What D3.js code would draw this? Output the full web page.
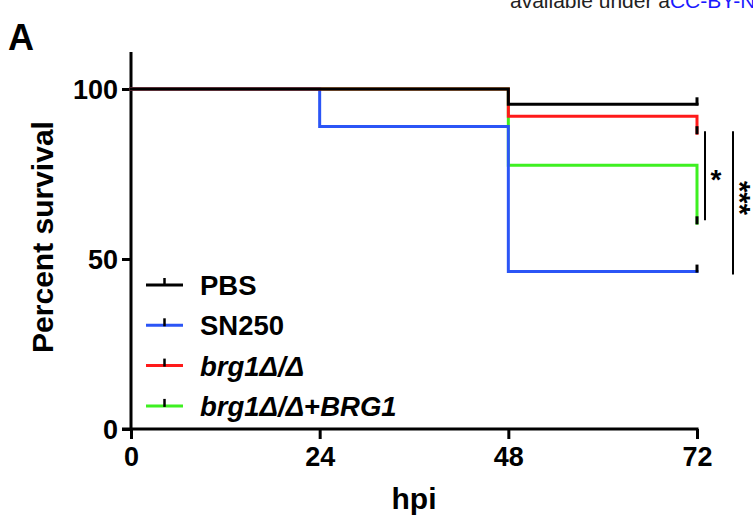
<!DOCTYPE html>
<html>
<head>
<meta charset="utf-8">
<script src="https://cdn.jsdelivr.net/npm/d3@7"></script>
<style>
  body { margin: 0; background: #fff; }
  svg { font-family: "Liberation Sans", Arial, sans-serif; }
</style>
</head>
<body>
<svg id="chart" width="753" height="522"></svg>
<script>
// time points (hours post infection)
const hpi = [0, 24, 48, 72];
// percent survival after each time point (step after)
const pbs = [100, 100, 95.5, 95.5];
const sn250 = [100, 89, 46.3, 46.3];
const brg1 = [100, 100, 92, 87];
const brg1Rescue = [100, 100, 77.6, 60.5];

const seriesNames = ["PBS", "SN250", "brg1\u0394/\u0394", "brg1\u0394/\u0394+BRG1"];
const seriesColors = ["#000000", "#2b55f6", "#ff1a1a", "#3ef021"];
const xTicks = [0, 24, 48, 72];
const yTicks = [0, 50, 100];

let svg = d3.select("#chart");

let x = d3.scaleLinear().domain([0, 72]).range([131, 697]);
let y = d3.scaleLinear().domain([0, 100]).range([429, 89]);

// header bits
svg.append("text")
    .attr("x", 510).attr("y", 8)
    .attr("font-size", 21)
    .attr("fill", "#222")
    .html('available under a<tspan fill="#1a1aff">CC-BY-NC-ND 4.0 International license</tspan>');

svg.append("text")
    .attr("x", 8).attr("y", 50)
    .attr("font-size", 36).attr("font-weight", "bold")
    .text("A");

// axes
let yAxis = d3.axisLeft(y).tickValues(yTicks).tickSize(9).tickPadding(4);
let xAxis = d3.axisBottom(x).tickValues(xTicks).tickSize(10).tickPadding(8);

let gy = svg.append("g").attr("transform", "translate(131,0)").call(yAxis);
let gx = svg.append("g").attr("transform", "translate(0,429)").call(xAxis);

[gy, gx].forEach(g => {
  g.select(".domain").remove();
  g.selectAll("line").attr("stroke", "#000").attr("stroke-width", 3);
  g.selectAll("text")
      .attr("font-size", 27).attr("font-weight", "bold")
      .attr("fill", "#000")
      .attr("font-family", "Liberation Sans, Arial, sans-serif");
});
gy.selectAll("text").attr("dy", "0.36em");
gx.selectAll("text").attr("dy", "0.7em");

svg.append("line")
    .attr("x1", 131).attr("x2", 131)
    .attr("y1", 52).attr("y2", 430.5)
    .attr("stroke", "#000").attr("stroke-width", 3);
svg.append("line")
    .attr("x1", 122).attr("x2", x(72) + 1.5)
    .attr("y1", 429).attr("y2", 429)
    .attr("stroke", "#000").attr("stroke-width", 3);

// axis titles
svg.append("text")
    .attr("transform", "translate(53,237) rotate(-90)")
    .attr("text-anchor", "middle")
    .attr("font-size", 30).attr("font-weight", "bold")
    .text("Percent survival");

svg.append("text")
    .attr("x", x(36)).attr("y", 509)
    .attr("text-anchor", "middle")
    .attr("font-size", 30).attr("font-weight", "bold")
    .text("hpi");

// survival curves, drawn back to front
let allSeries = [pbs, sn250, brg1, brg1Rescue];
let line = d3.line()
    .x(d => x(d.t))
    .y(d => y(d.v))
    .curve(d3.curveStepAfter);

let drawOrder = [3, 1, 2, 0];
drawOrder.forEach(i => {
  let pts = hpi.map((t, j) => ({ t: t, v: allSeries[i][j] }));
  svg.append("path")
      .attr("d", line(pts))
      .attr("fill", "none")
      .attr("stroke", seriesColors[i])
      .attr("stroke-width", 3)
      .attr("stroke-linejoin", "miter")
      .attr("stroke-linecap", "square");
});

// censor ticks at the end
allSeries.forEach(s => {
  let last = s[s.length - 1];
  svg.append("line")
      .attr("x1", x(72)).attr("x2", x(72))
      .attr("y1", y(last) + 1).attr("y2", y(last) - 7)
      .attr("stroke", "#000").attr("stroke-width", 3);
});

// significance bars
let redEnd = brg1[brg1.length - 1];
let greenEnd = brg1Rescue[brg1Rescue.length - 1];
let blueEnd = sn250[sn250.length - 1];

svg.append("line")
    .attr("x1", 705).attr("x2", 705)
    .attr("y1", y(redEnd) - 2).attr("y2", y(greenEnd) - 3)
    .attr("stroke", "#000").attr("stroke-width", 2);
svg.append("text")
    .attr("x", 716).attr("y", 189)
    .attr("text-anchor", "middle")
    .attr("font-size", 28).attr("font-weight", "bold")
    .text("*");

svg.append("line")
    .attr("x1", 733).attr("x2", 733)
    .attr("y1", y(redEnd) - 2).attr("y2", y(blueEnd) + 3)
    .attr("stroke", "#000").attr("stroke-width", 2);
svg.append("text")
    .attr("transform", "translate(730,198) rotate(90)")
    .attr("text-anchor", "middle")
    .attr("font-size", 29).attr("font-weight", "bold")
    .text("***");

// legend
let legend = svg.append("g").attr("transform", "translate(146,285)");
seriesNames.forEach((name, i) => {
  let row = legend.append("g").attr("transform", `translate(0,${i * 40.3})`);
  row.append("line")
      .attr("x1", 0).attr("x2", 37)
      .attr("stroke", seriesColors[i]).attr("stroke-width", 3);
  row.append("line")
      .attr("x1", 18.5).attr("x2", 18.5)
      .attr("y1", 1).attr("y2", -7)
      .attr("stroke", "#000").attr("stroke-width", 2.5);
  let txt = row.append("text")
      .attr("x", 54).attr("y", 10)
      .attr("font-size", 27.5).attr("font-weight", "bold");
  if (i < 2) {
    txt.text(name);
  } else if (i === 2) {
    txt.attr("font-style", "italic").text(name);
  } else {
    txt.append("tspan").attr("font-style", "italic").text("brg1\u0394/\u0394");
    txt.append("tspan").text("+");
    txt.append("tspan").attr("font-style", "italic").text("BRG1");
  }
});
</script>
</body>
</html>
